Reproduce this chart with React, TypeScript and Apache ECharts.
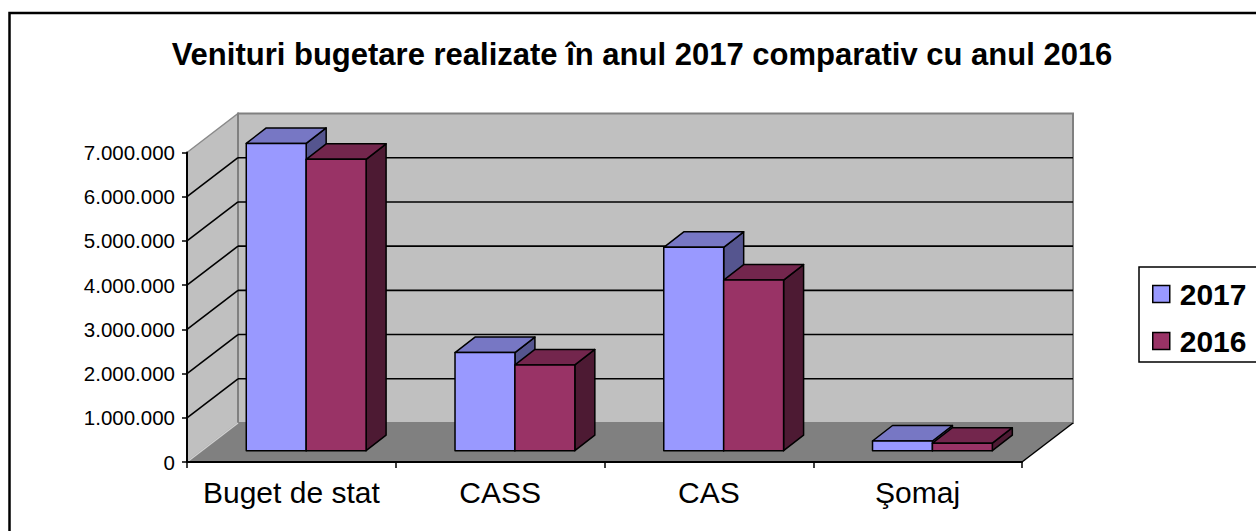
import React, { useEffect, useRef } from "react";
import * as echarts from "echarts";

const titleText = "Venituri bugetare realizate în anul 2017 comparativ cu anul 2016";
const categories = ["Buget de stat", "CASS", "CAS", "Şomaj"];
const seriesNames = ["2017", "2016"];
const values2017 = [6950000, 2220000, 4600000, 220000];
const values2016 = [6590000, 1940000, 3860000, 170000];
const yMin = 0;
const yMax = 7000000;
const yStep = 1000000;

// 3D look (pixel offsets)
const DX = 51;
const DY = 39;
const BAR_DX0 = 14.8;
const BAR_DY0 = 11.3;
const BAR_DX = 20;
const BAR_DY = 15.5;
const BAR_FRAC = 0.287;

const FONT = "Arial, 'Liberation Sans', sans-serif";

const palette = [
  { front: "#9999ff", top: "#7777c4", side: "#55558f" },
  { front: "#993366", top: "#73264d", side: "#4d1a33" },
];

function fmt(v: number): string {
  return String(v).replace(/\B(?=(\d{3})+(?!\d))/g, ".");
}

function renderWalls(params: any, api: any) {
  const cs = params.coordSys;
  const x0 = cs.x;
  const x1 = cs.x + cs.width;
  const yt = cs.y;
  const yb = cs.y + cs.height;
  const children: any[] = [];
  children.push({
    type: "polygon",
    shape: { points: [[x0, yb], [x0, yt], [x0 + DX, yt - DY], [x0 + DX, yb - DY]] },
    style: { fill: "#c0c0c0", stroke: "#8a8a8a", lineWidth: 1.5 },
  });
  children.push({
    type: "rect",
    shape: { x: x0 + DX, y: yt - DY, width: cs.width, height: cs.height },
    style: { fill: "#c0c0c0", stroke: "#808080", lineWidth: 2 },
  });
  children.push({
    type: "polygon",
    shape: { points: [[x0, yb], [x1, yb], [x1 + DX, yb - DY], [x0 + DX, yb - DY]] },
    style: { fill: "#808080", stroke: null },
  });
  children.push({
    type: "line",
    shape: { x1: x0, y1: yb, x2: x0 + DX, y2: yb - DY },
    style: { stroke: "#d0d0d0", lineWidth: 1.5 },
  });
  children.push({
    type: "line",
    shape: { x1: x1, y1: yb, x2: x1 + DX, y2: yb - DY },
    style: { stroke: "#000", lineWidth: 1.5 },
  });
  for (let t = yMin + yStep; t < yMax; t += yStep) {
    const y = api.coord([0, t])[1];
    children.push({
      type: "line",
      shape: { x1: x0, y1: y, x2: x0 + DX, y2: y - DY },
      style: { stroke: "#000", lineWidth: 1.6 },
    });
    children.push({
      type: "line",
      shape: { x1: x0 + DX, y1: y - DY, x2: x1 + DX, y2: y - DY },
      style: { stroke: "#000", lineWidth: 1.6 },
    });
  }
  return { type: "group", children };
}

function makeBarRenderer(si: number) {
  return (params: any, api: any) => {
    const ci = api.value(0);
    const v = api.value(1);
    const band = api.size([1, 0])[0];
    const base = api.coord([ci, 0]);
    const top = api.coord([ci, v]);
    const bw = band * BAR_FRAC;
    const L = base[0] - bw + si * bw + BAR_DX0;
    const R = L + bw;
    const T = top[1] - BAR_DY0;
    const B = base[1] - BAR_DY0;
    const c = palette[si];
    const st = { stroke: "#000", lineWidth: 1.5, lineJoin: "round" };
    return {
      type: "group",
      children: [
        {
          type: "polygon",
          shape: { points: [[R, T], [R + BAR_DX, T - BAR_DY], [R + BAR_DX, B - BAR_DY], [R, B]] },
          style: { fill: c.side, ...st },
        },
        {
          type: "polygon",
          shape: { points: [[L, T], [L + BAR_DX, T - BAR_DY], [R + BAR_DX, T - BAR_DY], [R, T]] },
          style: { fill: c.top, ...st },
        },
        {
          type: "rect",
          shape: { x: L, y: T, width: bw, height: B - T },
          style: { fill: c.front, ...st },
        },
      ],
    };
  };
}

export default function App() {
  const ref = useRef<HTMLDivElement>(null);
  useEffect(() => {
    if (!ref.current) return;
    const chart = echarts.init(ref.current, null, { renderer: "svg" });
    const barData = [values2017, values2016].map((arr) => arr.map((v, i) => [i, v]));
    chart.setOption({
      animation: false,
      backgroundColor: "#fff",
      title: {
        text: titleText,
        left: 637,
        top: 34,
        textAlign: "center",
        textStyle: { fontFamily: FONT, fontSize: 31, fontWeight: "bold", color: "#000" },
      },
      legend: {
        data: seriesNames,
        orient: "vertical",
        left: 1139,
        top: 267,
        padding: [12, 40, 6, 13],
        itemGap: 17,
        itemWidth: 17,
        itemHeight: 17,
        icon: "rect",
        borderColor: "#000",
        borderWidth: 1.5,
        itemStyle: { borderColor: "#000", borderWidth: 1.5 },
        textStyle: {
          fontFamily: FONT,
          fontSize: 30,
          fontWeight: "bold",
          color: "#000",
          lineHeight: 30,
          padding: [0, 0, 0, 5],
        },
      },
      graphic: [
        {
          type: "rect",
          shape: { x: 9.5, y: 13, width: 1300, height: 600 },
          style: { fill: null, stroke: "#000", lineWidth: 2.5 },
        },
      ],
      grid: { left: 187, top: 152.5, width: 835, height: 309.5, containLabel: false },
      xAxis: {
        type: "category",
        data: categories,
        boundaryGap: true,
        axisLine: { lineStyle: { color: "#000", width: 2 } },
        axisTick: { show: true, length: 6, lineStyle: { color: "#000", width: 1.5 } },
        axisLabel: { fontFamily: FONT, fontSize: 30, color: "#000", margin: 15, interval: 0 },
        splitLine: { show: false },
      },
      yAxis: {
        type: "value",
        min: yMin,
        max: yMax,
        interval: yStep,
        axisLine: { show: true, lineStyle: { color: "#000", width: 2 } },
        axisTick: { show: true, length: 5, lineStyle: { color: "#000", width: 1.5 } },
        axisLabel: {
          fontFamily: FONT,
          fontSize: 20.5,
          color: "#000",
          margin: 12,
          formatter: (v: number) => fmt(v),
        },
        splitLine: { show: false },
      },
      series: [
        {
          type: "custom",
          name: "walls",
          z: -1,
          silent: true,
          renderItem: renderWalls,
          data: [[0, 0]],
        },
        ...seriesNames.map((name, si) => ({
          type: "custom",
          name,
          z: 3 + si,
          itemStyle: { color: palette[si].front, borderColor: "#000", borderWidth: 1.5 },
          renderItem: makeBarRenderer(si),
          encode: { x: 0, y: 1 },
          data: barData[si],
        })),
      ],
    });
    return () => chart.dispose();
  }, []);
  return (
    <div
      ref={ref}
      style={{ position: "absolute", left: 0, top: 0, width: 1256, height: 531 }}
    />
  );
}
